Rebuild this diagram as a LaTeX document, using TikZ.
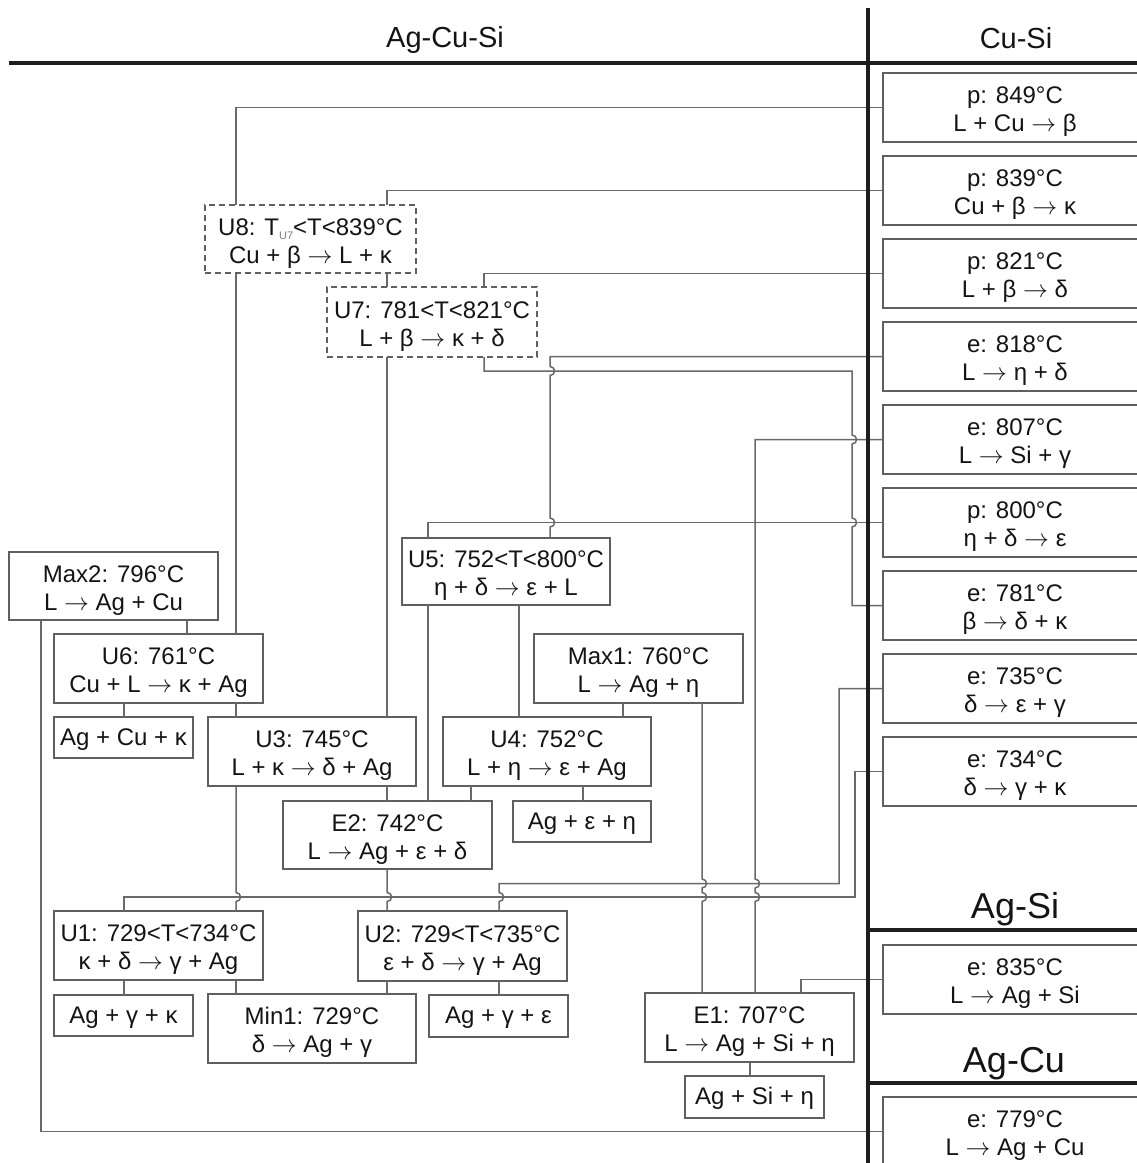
\documentclass[tikz,border=0pt]{standalone}
\usepackage{fontspec}
\setmainfont{Liberation Sans}
\definecolor{linegray}{RGB}{105,105,105}
\definecolor{boxgray}{RGB}{95,95,95}
\definecolor{thickline}{RGB}{30,30,30}
\definecolor{txt}{RGB}{20,20,20}
\newcommand{\vhop}[2]{-- (#1,#2-4.5) .. controls +(6,0) and +(6,0) .. (#1,#2+4.5)}
\newcommand{\rarr}{$\rightarrow$}
\newcommand{\tst}{\rule{0pt}{25pt}}% first-line strut, two-line boxes
\newcommand{\ost}{\rule{0pt}{20pt}}% strut, one-line boxes
\tikzset{
  box/.style={draw=boxgray, line width=1.6pt, rectangle, inner sep=0pt, outer sep=0pt,
    anchor=north west, align=center, text=txt, font=\fontsize{24}{28}\selectfont},
  dbox/.style={box, dash pattern=on 6pt off 4pt},
  conn/.style={draw=linegray, line width=1.5pt},
  divider/.style={draw=thickline, line width=4pt},
  title/.style={text=txt, inner sep=0pt, anchor=base},
}
\begin{document}
\begin{tikzpicture}[x=1pt,y=-1pt]
\useasboundingbox (0,0) rectangle (1137,1163);
\fill[white] (0,0) rectangle (1137,1163);

% ---------- right column (binary systems) ----------
\node[box, minimum width=264pt, minimum height=69pt] (p849) at (883,73)  {\tst p: 849°C\\L + Cu \rarr{} β};
\node[box, minimum width=264pt, minimum height=69pt] (p839) at (883,156) {\tst p: 839°C\\Cu + β \rarr{} κ};
\node[box, minimum width=264pt, minimum height=69pt] (p821) at (883,239) {\tst p: 821°C\\L + β \rarr{} δ};
\node[box, minimum width=264pt, minimum height=69pt] (e818) at (883,322) {\tst e: 818°C\\L \rarr{} η + δ};
\node[box, minimum width=264pt, minimum height=69pt] (e807) at (883,405) {\tst e: 807°C\\L \rarr{} Si + γ};
\node[box, minimum width=264pt, minimum height=69pt] (p800) at (883,488) {\tst p: 800°C\\η + δ \rarr{} ε};
\node[box, minimum width=264pt, minimum height=69pt] (e781) at (883,571) {\tst e: 781°C\\β \rarr{} δ + κ};
\node[box, minimum width=264pt, minimum height=69pt] (e735) at (883,654) {\tst e: 735°C\\δ \rarr{} ε + γ};
\node[box, minimum width=264pt, minimum height=69pt] (e734) at (883,737) {\tst e: 734°C\\δ \rarr{} γ + κ};
\node[box, minimum width=264pt, minimum height=69pt] (e835) at (883,945) {\tst e: 835°C\\L \rarr{} Ag + Si};
\node[box, minimum width=264pt, minimum height=69pt] (e779) at (883,1097) {\tst e: 779°C\\L \rarr{} Ag + Cu};

% ---------- ternary boxes ----------
\node[dbox, minimum width=211pt, minimum height=68pt] (u8) at (205,205)
  {\tst U8: T\raisebox{-4pt}{\fontsize{11}{11}\selectfont\color{gray}U7}<T<839°C\\Cu + β \rarr{} L + κ};
\node[dbox, minimum width=210pt, minimum height=70pt] (u7) at (327,287) {\tst U7: 781<T<821°C\\L + β \rarr{} κ + δ};
\node[box, minimum width=209pt, minimum height=68pt] (max2) at (9,552) {\tst Max2: 796°C\\L \rarr{} Ag + Cu};
\node[box, minimum width=208pt, minimum height=67pt] (u5) at (402,538) {\tst U5: 752<T<800°C\\η + δ \rarr{} ε + L};
\node[box, minimum width=209pt, minimum height=69pt] (u6) at (54,634) {\tst U6: 761°C\\Cu + L \rarr{} κ + Ag};
\node[box, minimum width=209pt, minimum height=69pt] (max1) at (534,634) {\tst Max1: 760°C\\L \rarr{} Ag + η};
\node[box, minimum width=139pt, minimum height=41pt] (agcuk) at (54,717) {\ost Ag + Cu + κ};
\node[box, minimum width=208pt, minimum height=69pt] (u3) at (208,717) {\tst U3: 745°C\\L + κ \rarr{} δ + Ag};
\node[box, minimum width=208pt, minimum height=69pt] (u4) at (443,717) {\tst U4: 752°C\\L + η \rarr{} ε + Ag};
\node[box, minimum width=209pt, minimum height=68pt] (e2) at (283,801) {\tst E2: 742°C\\L \rarr{} Ag + ε + δ};
\node[box, minimum width=138pt, minimum height=41pt] (agen) at (513,801) {\ost Ag + ε + η};
\node[box, minimum width=209pt, minimum height=69pt] (u1) at (54,911) {\tst U1: 729<T<734°C\\κ + δ \rarr{} γ + Ag};
\node[box, minimum width=209pt, minimum height=70pt] (u2) at (358,911) {\tst U2: 729<T<735°C\\ε + δ \rarr{} γ + Ag};
\node[box, minimum width=139pt, minimum height=41pt] (agyk) at (54,995) {\ost Ag + γ + κ};
\node[box, minimum width=208pt, minimum height=69pt] (min1) at (208,994) {\tst Min1: 729°C\\δ \rarr{} Ag + γ};
\node[box, minimum width=139pt, minimum height=42pt] (agye) at (429,995) {\ost Ag + γ + ε};
\node[box, minimum width=209pt, minimum height=69pt] (e1) at (645,993) {\tst E1: 707°C\\L \rarr{} Ag + Si + η};
\node[box, minimum width=139pt, minimum height=42pt] (agsin) at (685,1076) {\ost Ag + Si + η};

% ---------- connectors from the binary reactions ----------
\draw[conn] (p849.west) -| (236,0 |- u8.north);
\draw[conn] (236,0 |- u8.south) -- (236,0 |- u6.north);
\draw[conn] (p839.west) -| (387,0 |- u8.north);
\draw[conn] (387,0 |- u8.south) -- (387,0 |- u7.north);
\draw[conn] (p821.west) -| (484,0 |- u7.north);
\draw[conn] (e818.west) -- (550,0 |- e818.west) \vhop{550}{371} \vhop{550}{522.5} -- (550,0 |- u5.north);
\draw[conn] (e807.west) -- (755,0 |- e807.west) \vhop{755}{883.5} \vhop{755}{897} -- (755,0 |- e1.north);
\draw[conn] (p800.west) -| (428,0 |- u5.north);
\draw[conn] (484,0 |- u7.south) |- (852,371) \vhop{852}{439.5} \vhop{852}{522.5} |- (e781.west);
\draw[conn] (e735.west) -| (839,883.5) -- (499,883.5) \vhop{499}{897} -- (499,0 |- u2.north);
\draw[conn] (e734.west) -| (855,897) -| (124,0 |- u1.north);
\draw[conn] (e835.west) -| (801,0 |- e1.north);
\draw[conn] (e779.west) -| (41,0 |- max2.south);

% ---------- connectors inside the ternary scheme ----------
\draw[conn] (187,0 |- max2.south) -- (187,0 |- u6.north);
\draw[conn] (124,0 |- u6.south) -- (124,0 |- agcuk.north);
\draw[conn] (236,0 |- u6.south) -- (236,0 |- u3.north);
\draw[conn] (387,0 |- u7.south) -- (387,0 |- u3.north);
\draw[conn] (428,0 |- u5.south) -- (428,0 |- e2.north);
\draw[conn] (519,0 |- u5.south) -- (519,0 |- u4.north);
\draw[conn] (623,0 |- max1.south) -- (623,0 |- u4.north);
\draw[conn] (702,0 |- max1.south) \vhop{702}{883.5} \vhop{702}{897} -- (702,0 |- e1.north);
\draw[conn] (387,0 |- u3.south) -- (387,0 |- e2.north);
\draw[conn] (236,0 |- u3.south) \vhop{236}{897} -- (236,0 |- u1.north);
\draw[conn] (471,0 |- u4.south) -- (471,0 |- e2.north);
\draw[conn] (583,0 |- u4.south) -- (583,0 |- agen.north);
\draw[conn] (387,0 |- e2.south) \vhop{387}{897} -- (387,0 |- u2.north);
\draw[conn] (124,0 |- u1.south) -- (124,0 |- agyk.north);
\draw[conn] (236,0 |- u1.south) -- (236,0 |- min1.north);
\draw[conn] (387,0 |- u2.south) -- (387,0 |- min1.north);
\draw[conn] (499,0 |- u2.south) -- (499,0 |- agye.north);
\draw[conn] (750,0 |- e1.south) -- (750,0 |- agsin.north);

% ---------- dividers and titles ----------
\draw[divider] (9,63) -- (1137,63);
\draw[divider] (868,8) -- (868,1163);
\draw[divider] (868,930) -- (1137,930);
\draw[divider] (868,1083) -- (1137,1083);

\node[title, font=\fontsize{29}{29}\selectfont] (tAgCuSi) at (445,47) {Ag-Cu-Si};
\node[title, font=\fontsize{29}{29}\selectfont] (tCuSi) at (1016,48) {Cu-Si};
\node[title, font=\fontsize{36}{36}\selectfont] (tAgSi) at (1015,918) {Ag-Si};
\node[title, font=\fontsize{36}{36}\selectfont] (tAgCu) at (1014,1072) {Ag-Cu};
\end{tikzpicture}
\end{document}
